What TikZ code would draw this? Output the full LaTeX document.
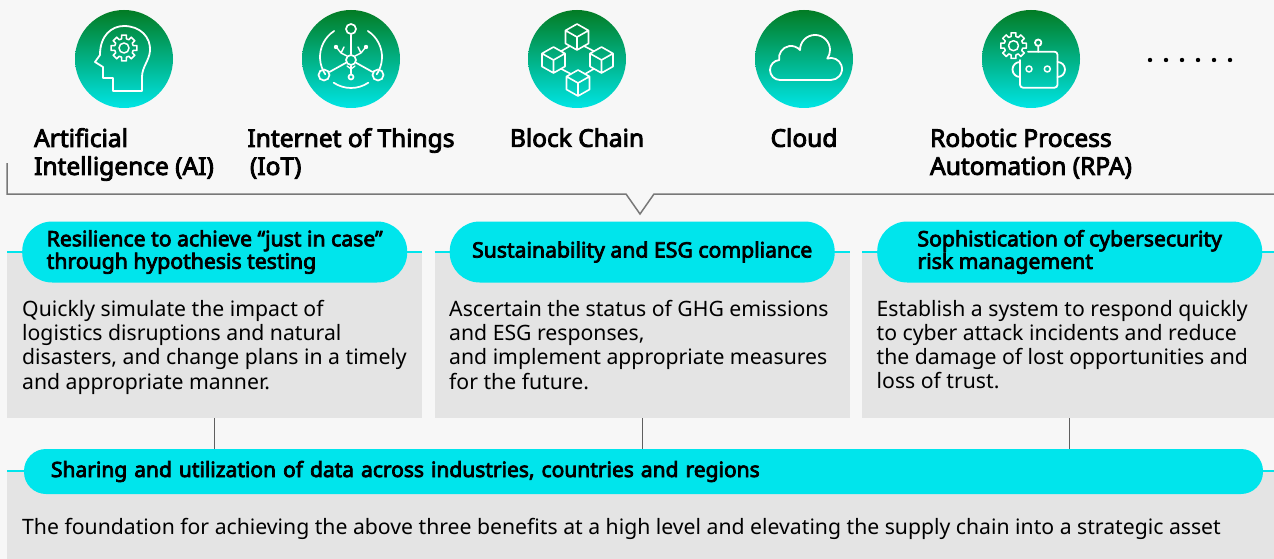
\documentclass[tikz,border=0pt]{standalone}
\usepackage{fontspec}
\setmainfont{Noto Sans}[BoldFont={Noto Sans},BoldFeatures={FakeBold=3.5}]
\usetikzlibrary{positioning}
\definecolor{bggray}{RGB}{247,247,247}
\definecolor{boxgray}{RGB}{228,228,228}
\definecolor{pillcyan}{RGB}{0,229,236}
\definecolor{topgreen}{RGB}{3,124,36}
\definecolor{midgreen}{RGB}{0,163,100}
\definecolor{botcyan}{RGB}{0,229,229}
\definecolor{rulegray}{RGB}{120,120,120}
\definecolor{linkgray}{RGB}{95,95,95}
\begin{document}
\begin{tikzpicture}[x=1pt,y=1pt,
  icon/.style={circle,minimum size=98pt,inner sep=0,top color=topgreen,middle color=midgreen,bottom color=botcyan},
  glyph/.style={draw=white,line width=1.8pt,line join=round,line cap=round},
  hubdot/.style={circle,draw=white,line width=1.7pt,inner sep=0,minimum size=#1},
  techlabel/.style={anchor=north,align=left,inner sep=0,font=\fontsize{24.5}{28}\selectfont\bfseries},
  panel/.style={rectangle,fill=boxgray,anchor=north west,inner sep=0,minimum width=415pt,minimum height=166pt},
  pill/.style={rectangle,fill=pillcyan,rounded corners=30pt,minimum width=385pt,minimum height=61pt,align=left,inner sep=0,font=\fontsize{21.2}{22.5}\selectfont\bfseries},
  basepill/.style={pill,minimum width=1239pt,minimum height=45pt,rounded corners=22pt,text width=1185pt,inner xsep=27pt,font=\fontsize{21}{24}\selectfont\bfseries},
  bodytext/.style={anchor=north west,align=left,inner sep=0,font=\fontsize{21.2}{24.3}\selectfont},
  cyanrule/.style={draw=pillcyan,line width=2.7pt},
  bracketline/.style={draw=rulegray,line width=1.5pt},
  link/.style={draw=linkgray,line width=1.4pt}]
\useasboundingbox (0,0) rectangle (1274,-559);
\fill[bggray] (0,0) rectangle (1274,-559);
\draw[bracketline] (7,-163) -- (7,-194) -- (626,-194) -- (640,-214) -- (654,-194) -- (1274,-194);

\node[icon] (ai) at (124,-59) {};
\node[icon] (iot) at (351,-59) {};
\node[icon] (chain) at (577,-59) {};
\node[icon] (cloud) at (804,-59) {};
\node[icon] (rpa) at (1031,-59) {};

\begin{scope}[shift={(ai.center)}]
\draw[glyph] (-11,-32) -- (-11,-19) -- (-21,-19) -- (-21,-8) -- (-29,-3) -- (-24,4) .. controls (-24,24) and (-12,33) .. (0,33) .. controls (16,33) and (27,22) .. (26,8) .. controls (25,-2) and (18,-8) .. (18,-18) -- (18,-32) -- cycle;
\draw[glyph,line width=1.5pt] (0,11) circle (5);
\draw[glyph,line width=1.5pt,shift={(0,11)}] (-11:13) \foreach \a in {0,45,...,315}{ -- (\a-11:13) -- (\a+11:13) -- (\a+15:9.5) -- (\a+30:9.5)} -- cycle;
\end{scope}

\begin{scope}[shift={(iot.center)}]
\node[hubdot=10pt] (hub) at (0,-1) {};
\node[hubdot=10pt] (hubtop) at (0,30) {};
\node[hubdot=11pt] (hubleft) at (-27,-16) {};
\node[hubdot=11pt] (hubright) at (27,-16) {};
\node[hubdot=5pt] (hubdown) at (0,-18) {};
\draw[glyph,line width=1.7pt] (hub) -- (hubtop) (hub) -- (hubleft) (hub) -- (hubright) (hub) -- (hubdown);
\draw[glyph,line width=1.7pt] (0,2) ++(123:31) arc[start angle=123,end angle=214,radius=31];
\draw[glyph,line width=1.7pt] (0,2) ++(57:31) arc[start angle=57,end angle=-34,radius=31];
\draw[glyph,line width=1.7pt] (0,2) ++(236:31) arc[start angle=236,end angle=304,radius=31];
\draw[glyph,line width=1.4pt] (-4,3) -- (-10,6) -- (-14,11) (-10,6) -- (-7,12) (4,3) -- (10,6) -- (14,11) (10,6) -- (7,12);
\fill[white] (-15,12) circle (2.2) (15,12) circle (2.2);
\draw[glyph,line width=1.3pt] (0,-10) -- (-4,-7) (0,-10) -- (4,-7);
\end{scope}

\begin{scope}[shift={(chain.center)}]
\foreach \cx/\cy in {0/22,-23.5/-1,24.5/-1,1/-24}
  \draw[glyph,line width=1.6pt,shift={(\cx,\cy)}] (0,13) -- (11.5,6.5) -- (11.5,-6.5) -- (0,-13) -- (-11.5,-6.5) -- (-11.5,6.5) -- cycle (-11.5,6.5) -- (0,0) -- (11.5,6.5) (0,0) -- (0,-13);
\draw[glyph,line width=1.6pt] (-7,13) -- (-16,7.8) (7,13) -- (17,7.8) (-16,-9.8) -- (-6,-15) (17,-9.8) -- (8,-15);
\end{scope}

\begin{scope}[shift={(cloud.center)}]
\draw[glyph] (-24,-21) arc[start angle=270,end angle=94.6,radius=10] arc[start angle=189.9,end angle=41.4,radius=12] arc[start angle=180.3,end angle=-35.2,radius=15] arc[start angle=109.9,end angle=-90,radius=11] -- cycle;
\end{scope}

\begin{scope}[shift={(rpa.center)}]
\draw[glyph,line width=1.5pt] (-17.5,13.3) circle (5);
\draw[glyph,line width=1.5pt,shift={(-17.5,13.3)}] (-11:13) \foreach \a in {0,45,...,315}{ -- (\a-11:13) -- (\a+11:13) -- (\a+15:9.5) -- (\a+30:9.5)} -- cycle;
\draw[glyph,rounded corners=3pt] (-3,7.3) -- (26.5,7.3) -- (26.5,-28.7) -- (-11,-28.7) -- (-11,-1);
\draw[glyph] (7.2,16.3) circle (3.2) (7.2,13.1) -- (7.2,7.3);
\draw[glyph] (-11,-3) arc[start angle=90,end angle=270,radius=7.5];
\draw[glyph] (26.5,-3) arc[start angle=90,end angle=-90,radius=7.5];
\draw[glyph,line width=1.5pt] (-2,-10) circle (3) (16.3,-10) circle (3);
\end{scope}

\foreach \i in {0,...,5} \fill (1150+16*\i,-60) circle (2.2);

\node[techlabel] (ailbl) at (124,-128) {Artificial\\Intelligence (AI)};
\node[techlabel] (iotlbl) at (351,-128) {Internet of Things\\\hspace*{2.5pt}(IoT)};
\node[techlabel] (chainlbl) at (577,-128) {Block Chain};
\node[techlabel] (cloudlbl) at (804,-128) {Cloud};
\node[techlabel] (rpalbl) at (1031,-128) {Robotic Process\\Automation (RPA)};

\node[panel] (box1) at (7,-252) {};
\node[panel] (box2) at (434.5,-252) {};
\node[panel] (box3) at (862,-252) {};
\draw[cyanrule] (box1.north west) -- (box1.north east);
\draw[cyanrule] (box2.north west) -- (box2.north east);
\draw[cyanrule] (box3.north west) -- (box3.north east);
\node[pill] (pill1) at (box1.north) {Resilience to achieve “just in case”\\through hypothesis testing};
\node[pill] (pill2) at (box2.north) {Sustainability and ESG compliance};
\node[pill] (pill3) at (box3.north) {Sophistication of cybersecurity\\risk management};
\node[bodytext] (txt1) at (22,-299.7) {Quickly simulate the impact of\\logistics disruptions and natural\\disasters, and change plans in a timely\\and appropriate manner.};
\node[bodytext] (txt2) at (449,-299.7) {Ascertain the status of GHG emissions\\and ESG responses,\\and implement appropriate measures\\for the future.};
\node[bodytext] (txt3) at (876.5,-299.7) {Establish a system to respond quickly\\to cyber attack incidents and reduce\\the damage of lost opportunities and\\loss of trust.};

\node[panel,minimum width=1270pt,minimum height=90pt] (base) at (7,-471) {};
\draw[cyanrule] (base.north west) -- (base.north east);
\node[basepill] (sharepill) at (643.5,-471.5) {Sharing and utilization of data across industries, countries and regions};
\node[bodytext] (basetxt) at (22,-518) {The foundation for achieving the above three benefits at a high level and elevating the supply chain into a strategic asset};

\draw[link] (box1.south) -- (box1.south |- sharepill.north);
\draw[link] (box2.south) -- (box2.south |- sharepill.north);
\draw[link] (box3.south) -- (box3.south |- sharepill.north);
\end{tikzpicture}
\end{document}
